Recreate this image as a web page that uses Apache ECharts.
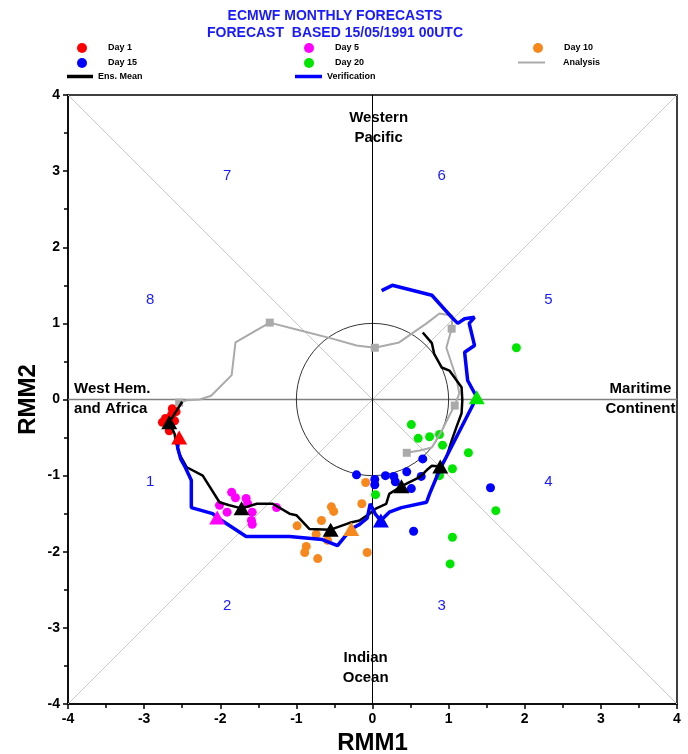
<!DOCTYPE html>
<html>
<head>
<meta charset="utf-8">
<script src="https://cdn.jsdelivr.net/npm/echarts@6/dist/echarts.min.js"></script>
<style>
  html, body { margin: 0; padding: 0; background: #fff; }
  #chart { width: 688px; height: 754px; }
</style>
</head>
<body>
<div id="chart"></div>
<script>
const FONT = '"Liberation Sans", Arial, Helvetica, sans-serif';

// Ensemble member positions (RMM1, RMM2) at each lead time
const day1Members = [[-2.76,-0.30],[-2.69,-0.30],[-2.63,-0.12],[-2.64,-0.20],[-2.58,-0.16],[-2.67,-0.41],[-2.72,-0.25],[-2.60,-0.28]];
const day5Members = [[-1.85,-1.22],[-1.80,-1.29],[-1.66,-1.30],[-1.64,-1.37],[-2.01,-1.39],[-1.91,-1.48],[-1.58,-1.48],[-1.59,-1.59],[-1.58,-1.64],[-1.26,-1.42]];
const day10Members = [[-0.09,-1.09],[-0.14,-1.37],[-0.54,-1.41],[-0.51,-1.47],[-0.67,-1.59],[-0.99,-1.66],[-0.74,-1.77],[-0.59,-1.85],[-0.87,-1.93],[-0.89,-2.01],[-0.72,-2.09],[-0.07,-2.01]];
const day15Members = [[-0.21,-0.99],[0.03,-1.05],[0.03,-1.12],[0.17,-1.00],[0.28,-1.01],[0.30,-1.08],[0.45,-0.95],[0.51,-1.17],[0.66,-0.78],[0.64,-1.01],[0.54,-1.73],[1.55,-1.16]];
const day20Members = [[0.04,-1.25],[0.51,-0.33],[0.60,-0.51],[0.75,-0.49],[0.88,-0.46],[0.92,-0.60],[1.26,-0.70],[1.05,-0.91],[0.88,-1.00],[1.62,-1.46],[1.05,-1.81],[1.02,-2.16],[1.89,0.68]];

// Analysis leading up to the start date
const analysisPath = [[0.45,-0.70],[0.62,-0.67],[0.78,-0.63],[0.91,-0.41],[1.01,-0.21],[1.08,-0.08],[1.14,0.08],[1.10,0.29],[1.04,0.47],[0.97,0.68],[1.04,0.93],[1.05,1.10],[0.88,1.13],[0.71,1.00],[0.35,0.75],[0.03,0.68],[-0.21,0.71],[-0.53,0.80],[-0.96,0.91],[-1.35,1.01],[-1.80,0.75],[-1.85,0.32],[-2.12,0.05],[-2.27,0.00],[-2.44,-0.01],[-2.54,-0.04]];
const analysisMarkIdx = [0, 5, 10, 15, 19, 25];

// Ensemble mean trajectory
const ensMeanPath = [[-2.50,-0.03],[-2.67,-0.30],[-2.60,-0.45],[-2.58,-0.57],[-2.54,-0.71],[-2.44,-0.89],[-2.23,-1.00],[-2.01,-1.35],[-1.88,-1.39],[-1.72,-1.43],[-1.52,-1.37],[-1.31,-1.37],[-1.09,-1.50],[-1.00,-1.52],[-0.83,-1.70],[-0.55,-1.71],[-0.30,-1.62],[-0.17,-1.59],[-0.04,-1.50],[0.05,-1.43],[0.18,-1.37],[0.22,-1.24],[0.38,-1.14],[0.46,-1.10],[0.62,-1.02],[0.71,-0.93],[0.78,-0.87],[0.89,-0.88],[0.97,-0.76],[1.04,-0.54],[1.10,-0.37],[1.17,-0.18],[1.18,-0.01],[1.17,0.16],[1.01,0.38],[0.91,0.42],[0.81,0.60],[0.78,0.74],[0.66,0.88]];
const ensMeanMarkIdx = [1, 9, 15, 22, 27];

// Verifying analysis after the start date
const verificationPath = [[-2.54,-0.50],[-2.56,-0.63],[-2.52,-0.78],[-2.46,-0.89],[-2.38,-1.06],[-2.38,-1.42],[-2.10,-1.50],[-2.04,-1.55],[-1.66,-1.80],[-1.09,-1.80],[-0.66,-1.84],[-0.46,-1.92],[-0.28,-1.70],[-0.17,-1.64],[-0.07,-1.56],[-0.03,-1.37],[0.04,-1.51],[0.11,-1.59],[0.22,-1.48],[0.38,-1.42],[0.71,-1.35],[0.75,-1.24],[0.88,-0.93],[1.37,0.03],[1.25,0.25],[1.21,0.62],[1.34,0.71],[1.27,1.00],[1.34,1.08],[1.21,1.06],[1.12,1.00],[1.04,1.08],[0.78,1.37],[0.26,1.50],[0.12,1.43]];
const verificationMarkIdx = [0, 7, 12, 17, 23];

const dayNames = ['Day 1', 'Day 5', 'Day 10', 'Day 15', 'Day 20'];
const dayColors = ['#ff0000', '#ff00ff', '#f7881e', '#0000ff', '#00e600'];

// Phase numbers and regions
const phaseNumbers = ['1', '2', '3', '4', '5', '6', '7', '8'];
const phasePos = [[-2.92,-1.08],[-1.91,-2.71],[0.91,-2.71],[2.31,-1.08],[2.31,1.31],[0.91,2.94],[-1.91,2.94],[-2.92,1.31]];
const regionNames = ['Western\nPacific', 'Indian\nOcean', 'Maritime\nContinent'];
const regionPos = [[0.08,3.57],[-0.09,-3.52],[3.52,0.01]];
const westRegionName = 'West Hem.\nand Africa';
const westRegionPos = [-3.92, 0.01];

// Reference lines and the unit circle
const diagonalUp = [[-4,-4],[4,4]];
const diagonalDown = [[-4,4],[4,-4]];
const verticalZero = [[0,-4],[0,4]];
const horizontalZero = [[-4,0],[4,0]];
const unitCircle = [[0, 0, 1]];

const pick = (path, idx) => idx.map(i => path[i]);

const chart = echarts.init(document.getElementById('chart'), null, { renderer: 'canvas' });

const legendCommon = {
  padding: 0,
  selectedMode: false,
  orient: 'horizontal',
  textStyle: { fontSize: 9, fontWeight: 'bold', color: '#000', fontFamily: FONT }
};
const dotLegend = (name, left, top) => Object.assign({}, legendCommon, {
  data: [name], left, top, icon: 'circle', itemWidth: 10, itemHeight: 10,
  textStyle: Object.assign({}, legendCommon.textStyle, { padding: [0, 0, 0, 16] })
});
const lineLegend = (name, left, top, w, h, pad) => Object.assign({}, legendCommon, {
  data: [name], left, top, icon: 'rect', itemWidth: w, itemHeight: h,
  textStyle: Object.assign({}, legendCommon.textStyle, { padding: [0, 0, 0, pad] })
});

const refLine = (data, color, width) => ({
  type: 'line', data, symbol: 'none', silent: true, z: 1,
  lineStyle: { color, width }, itemStyle: { color }
});

const textSeries = (data, style) => ({
  type: 'scatter', silent: true, symbolSize: 0, z: 3,
  itemStyle: { opacity: 1 },
  data,
  label: Object.assign({ show: true, position: 'inside', formatter: p => p.name, fontFamily: FONT, opacity: 1 }, style)
});

const memberSeries = dayNames.map((name, i) => ({
  name, type: 'scatter', z: 4,
  data: [day1Members, day5Members, day10Members, day15Members, day20Members][i],
  symbol: 'circle', symbolSize: 9,
  itemStyle: { color: dayColors[i], opacity: 1 }, color: dayColors[i]
}));

const option = {
  animation: false,
  backgroundColor: '#fff',
  title: {
    text: 'ECMWF MONTHLY FORECASTS\nFORECAST  BASED 15/05/1991 00UTC',
    left: 330, top: 3, textAlign: 'center',
    textStyle: { color: '#1a1aff', fontSize: 14, fontWeight: 'bold', fontFamily: FONT, lineHeight: 17 }
  },
  legend: [
    dotLegend('Day 1', 77, 43),
    dotLegend('Day 5', 304, 43),
    dotLegend('Day 10', 533, 43),
    dotLegend('Day 15', 77, 58),
    dotLegend('Day 20', 304, 58),
    lineLegend('Analysis', 518, 58, 27, 2, 13),
    lineLegend('Ens. Mean', 67, 72, 26, 3.5, 0),
    lineLegend('Verification', 295, 72, 27, 3.5, 0)
  ],
  grid: {
    left: 68, right: 11, top: 95, bottom: 50,
    containLabel: false, outerBoundsMode: 'none',
    show: true, borderColor: '#000', borderWidth: 1.5, backgroundColor: 'transparent'
  },
  xAxis: {
    type: 'value', min: -4, max: 4, interval: 1,
    name: 'RMM1', nameLocation: 'middle', nameGap: 25,
    nameTextStyle: { fontSize: 24, fontWeight: 'bold', color: '#000', fontFamily: FONT },
    axisLine: { show: true, onZero: false, lineStyle: { color: '#000', width: 1.5 } },
    axisTick: { show: true, inside: false, length: 5, lineStyle: { color: '#000', width: 1.5 } },
    minorTick: { show: true, splitNumber: 2, length: 4, lineStyle: { color: '#000', width: 1.5 } },
    axisLabel: { fontSize: 14, fontWeight: 'bold', color: '#000', fontFamily: FONT, margin: 8 },
    splitLine: { show: false }
  },
  yAxis: {
    type: 'value', min: -4, max: 4, interval: 1,
    name: 'RMM2', nameLocation: 'middle', nameGap: 28, nameMoveOverlap: false,
    nameTextStyle: { fontSize: 24, fontWeight: 'bold', color: '#000', fontFamily: FONT },
    axisLine: { show: true, onZero: false, lineStyle: { color: '#000', width: 1.5 } },
    axisTick: { show: true, inside: false, length: 5, lineStyle: { color: '#000', width: 1.5 } },
    minorTick: { show: true, splitNumber: 2, length: 4, lineStyle: { color: '#000', width: 1.5 } },
    axisLabel: { fontSize: 14, fontWeight: 'bold', color: '#000', fontFamily: FONT, margin: 8 },
    splitLine: { show: false }
  },
  series: [
    refLine(diagonalUp, '#c8c8c8', 1),
    refLine(diagonalDown, '#c8c8c8', 1),
    refLine(horizontalZero, '#808080', 1.5),
    refLine(verticalZero, '#000', 1),
    {
      type: 'custom', silent: true, z: 2,
      data: unitCircle,
      renderItem: (params, api) => {
        const c = api.coord([api.value(0), api.value(1)]);
        const r = api.size([api.value(2), 0])[0];
        return { type: 'circle', shape: { cx: c[0], cy: c[1], r }, style: { fill: 'rgba(0,0,0,0)', stroke: '#000', lineWidth: 0.8 } };
      }
    },
    textSeries(phaseNumbers.map((n, i) => ({ name: n, value: phasePos[i] })),
      { fontSize: 15, color: '#1a1aff' }),
    textSeries(regionNames.map((n, i) => ({ name: n, value: regionPos[i] })),
      { fontSize: 15, fontWeight: 'bold', color: '#000', lineHeight: 20, align: 'center' }),
    textSeries([{ name: westRegionName, value: westRegionPos }],
      { fontSize: 15, fontWeight: 'bold', color: '#000', lineHeight: 20, position: 'right', distance: 0, align: 'left' }),
    ...memberSeries,
    {
      name: 'Analysis', type: 'line', z: 5, data: analysisPath, symbol: 'none',
      color: '#aaaaaa', lineStyle: { color: '#aaaaaa', width: 2 }, itemStyle: { color: '#aaaaaa' }
    },
    {
      type: 'scatter', z: 5, silent: true, data: pick(analysisPath, analysisMarkIdx),
      symbol: 'rect', symbolSize: 8, itemStyle: { color: '#aaaaaa', opacity: 1 }
    },
    {
      name: 'Ens. Mean', type: 'line', z: 6, data: ensMeanPath, symbol: 'none',
      color: '#000', lineStyle: { color: '#000', width: 2.5 }, itemStyle: { color: '#000' }
    },
    {
      name: 'Verification', type: 'line', z: 6, data: verificationPath, symbol: 'none',
      color: '#0000ff', lineStyle: { color: '#0000ff', width: 3.5 }, itemStyle: { color: '#0000ff' }
    },
    {
      type: 'scatter', z: 7, silent: true, data: pick(ensMeanPath, ensMeanMarkIdx),
      symbol: 'triangle', symbolSize: [16, 14], itemStyle: { color: '#000', opacity: 1 }
    },
    {
      type: 'scatter', z: 7, silent: true,
      data: pick(verificationPath, verificationMarkIdx).map((p, i) => ({ value: p, itemStyle: { color: dayColors[i], opacity: 1 } })),
      symbol: 'triangle', symbolSize: [16, 14]
    }
  ]
};

chart.setOption(option);
</script>
</body>
</html>
